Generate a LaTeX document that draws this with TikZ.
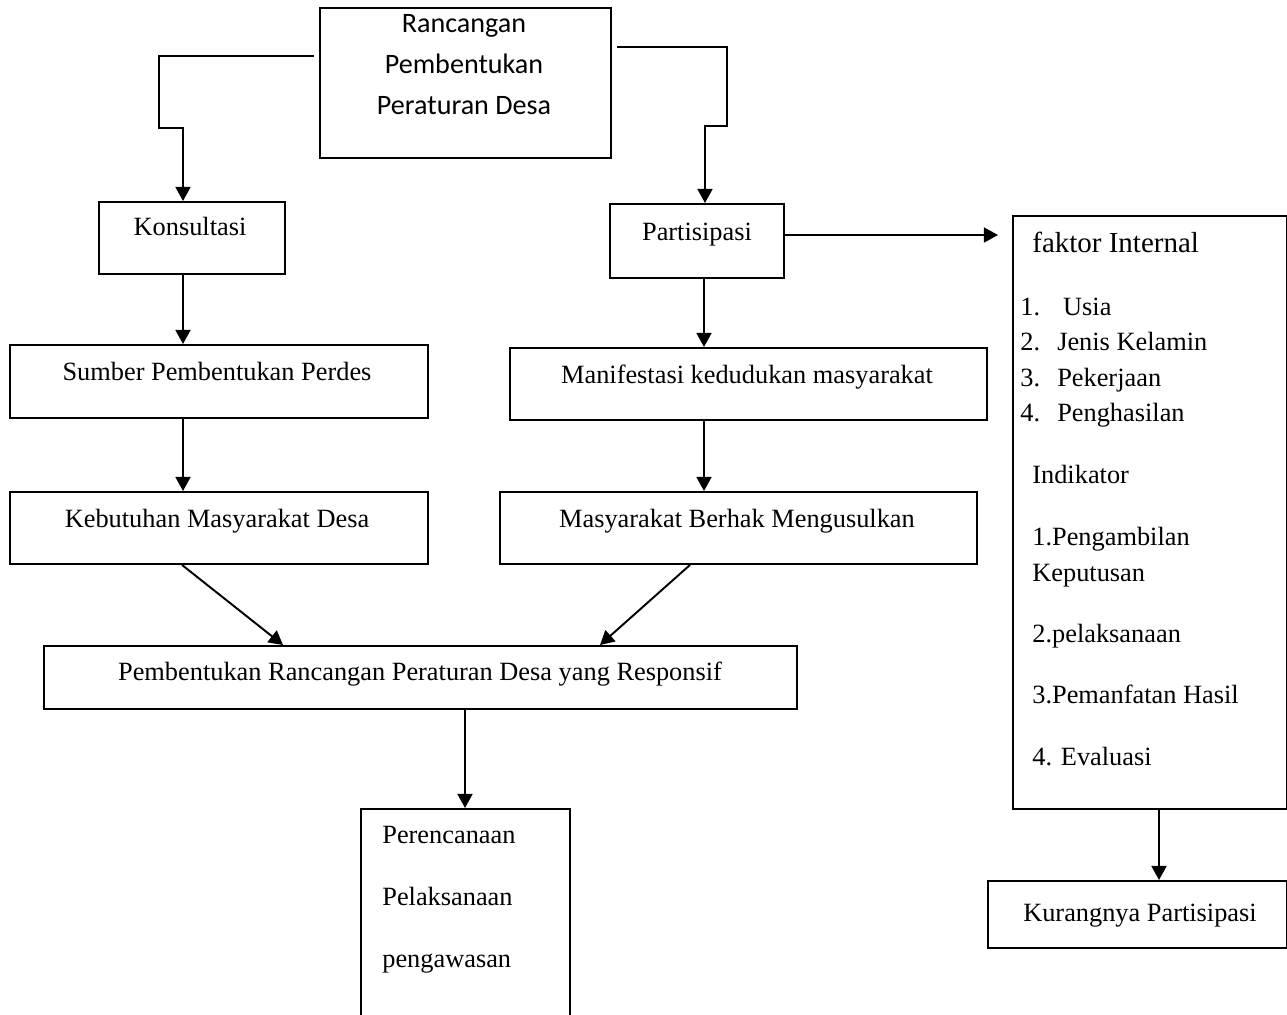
\documentclass[tikz,border=0pt]{standalone}
\usepackage{fontspec}
\setmainfont{Liberation Serif}
\newfontfamily\calibfont{Carlito}
\usetikzlibrary{arrows.meta}
\usetikzlibrary{positioning}
\tikzstyle{box}=[draw,line width=1.1pt,inner sep=0pt,anchor=north west]
\tikzstyle{txt}=[anchor=base,inner sep=0pt,font=\fontsize{15}{18}\selectfont]
\tikzstyle{ltxt}=[txt,anchor=base west]
\tikzstyle{edge}=[draw,line width=1.1pt,-{Triangle[length=8pt,width=8.5pt]}]
\newcommand{\listno}[1]{\makebox[21pt][l]{#1}}

\begin{document}
\begin{tikzpicture}[x=0.02cm,y=-0.02cm]
    \useasboundingbox (0,0) rectangle (1287,1014);
    \clip (0,0) rectangle (1287,1014);

    % boxes: corner / name / width / height
    \foreach \pos/\name/\w/\h in {{(319,7)/rancang/291/150}, {(98,201)/kons/186/72}, {(609,203)/partis/174/74},
        {(1012,215)/faktor/274/593}, {(9,344)/sumber/418/73}, {(509,347)/manif/477/72}, {(9,491)/kebut/418/72},
        {(499,491)/berhak/477/72}, {(43,645)/bentuk/753/63}, {(360,808)/rencana/209/240}, {(987,880)/kurang/299/67}}
        \node[box,minimum width=\w*0.02cm,minimum height=\h*0.02cm] (\name) at \pos {};

    \foreach \pos/\name/\label in {{(464,32)/r1/Rancangan}, {(464,73)/r2/Pembentukan}, {(464,114)/r3/Peraturan Desa}}
        \node[txt,font=\calibfont\fontsize{16}{19}\selectfont] (\name) at \pos {\label};

    \foreach \pos/\name/\label in {{(190,235)/konsT/Konsultasi}, {(697,240)/partisT/Partisipasi},
        {(217,380)/sumberT/Sumber Pembentukan Perdes}, {(747,383)/manifT/Manifestasi kedudukan masyarakat},
        {(217,527)/kebutT/Kebutuhan Masyarakat Desa}, {(737,527)/berhakT/Masyarakat Berhak Mengusulkan},
        {(420,680)/bentukT/Pembentukan Rancangan Peraturan Desa yang Responsif}, {(1140,921)/kurangT/Kurangnya Partisipasi}}
        \node[txt] (\name) at \pos {\label};

    \node[ltxt,font=\fontsize{16.5}{19}\selectfont] (faktorT) at (1032,252) {faktor Internal};
    \foreach \pos/\name/\label in {{(1020,315)/f1/{\listno{1.}\hspace{3.4pt}Usia}}, {(1020,350)/f2/{\listno{2.}Jenis Kelamin}},
        {(1020,386)/f3/{\listno{3.}Pekerjaan}}, {(1020,421)/f4/{\listno{4.}Penghasilan}}, {(1032,483)/f5/Indikator},
        {(1032,545)/f6/1.Pengambilan}, {(1032,581)/f7/Keputusan}, {(1032,642)/f8/2.pelaksanaan},
        {(1032,703)/f9/3.Pemanfatan Hasil}, {(1032,765)/f10/4. Evaluasi},
        {(382,843)/p1/Perencanaan}, {(382,905)/p2/Pelaksanaan}, {(382,967)/p3/pengawasan}}
        \node[ltxt] (\name) at \pos {\label};

    \coordinate (lout) at (314,56);
    \coordinate (rout) at (617,47);
    \path[edge] (lout) -- (159,56) -- (159,128) -- (183,128) -- (183,0 |- kons.north);
    \path[edge] (rout) -- (727,47) -- (727,126) -- (705,126) -- (705,0 |- partis.north);
    \path[edge] (partis.east |- 0,235) -- ([xshift=-0.28cm]faktor.west |- 0,235);

    \foreach \x/\source/\dest in {183/kons/sumber, 183/sumber/kebut, 704/partis/manif, 704/manif/berhak,
        465/bentuk/rencana, 1159/faktor/kurang}
        \path[edge] (\x,0 |- \source.south) -- (\x,0 |- \dest.north);

    \foreach \xa/\source/\xb/\dest in {182/kebut/283/bentuk, 690/berhak/600/bentuk}
        \path[edge] (\xa,0 |- \source.south) -- (\xb,0 |- \dest.north);

\end{tikzpicture}
\end{document}
